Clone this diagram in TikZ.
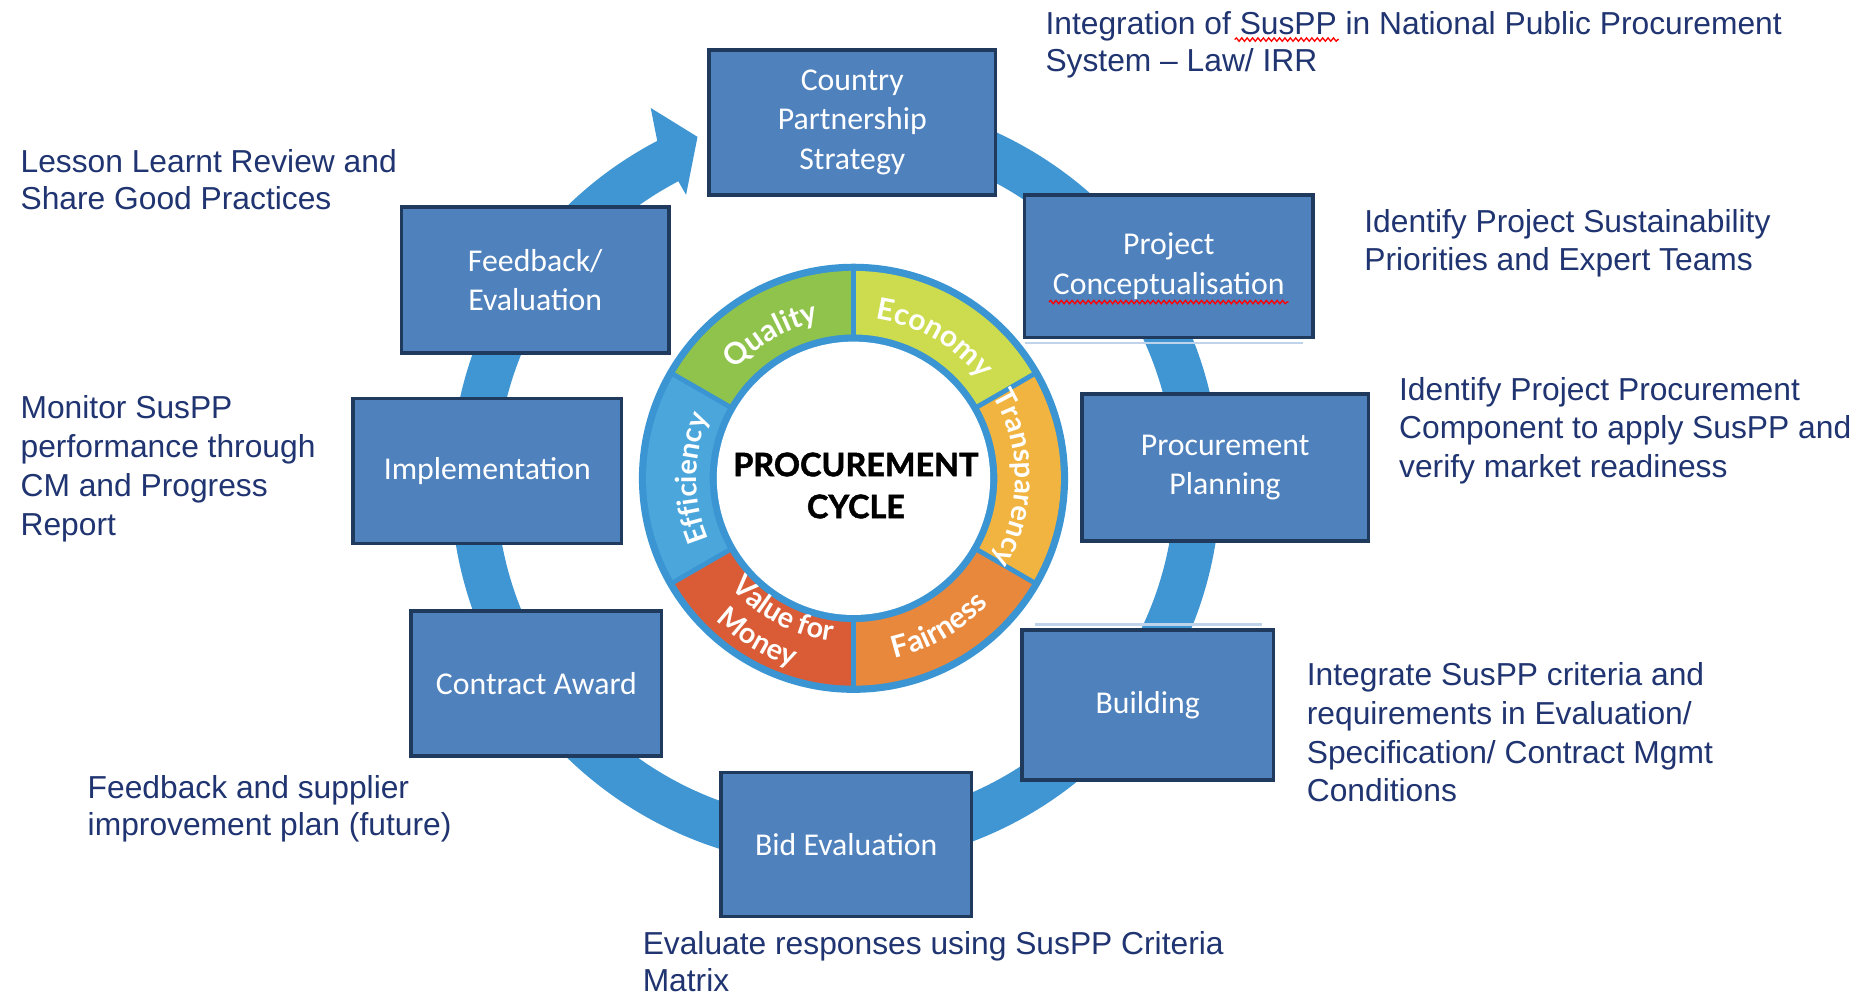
\documentclass[tikz,border=0pt]{standalone}
\usepackage{fontspec}
\setmainfont{Liberation Sans}
\newfontfamily\boxfont{Carlito}
\newfontfamily\wheelfont{Lato}
\newfontfamily\pcfont{Lato}[BoldFeatures={FakeBold=1.6}]
\usetikzlibrary{calc,decorations.text,decorations.pathmorphing}
\definecolor{ringblue}{HTML}{3F96D2}
\definecolor{boxfill}{HTML}{4F81BD}
\definecolor{boxline}{HTML}{1F3A5C}
\definecolor{notecol}{HTML}{1F3470}
\definecolor{wborder}{HTML}{3B95D3}
\definecolor{cquality}{HTML}{8FC34B}
\definecolor{ceconomy}{HTML}{CDDC4E}
\definecolor{ctransp}{HTML}{F2B440}
\definecolor{cfair}{HTML}{E8883C}
\definecolor{cvalue}{HTML}{D95C36}
\definecolor{ceffic}{HTML}{4BA6DC}
\definecolor{shadowline}{HTML}{BFD3EA}
\tikzset{
  boxnode/.style={draw=boxline, line width=3, fill=boxfill, text=white,
    font=\boxfont\fontsize{26.5}{33}\selectfont, align=center, inner sep=0},
  notetext/.style={text=notecol, font=\fontsize{26.5}{32}\selectfont,
    align=left, anchor=base west, inner sep=0},
  wavy/.style={red, line width=1.1, decorate,
    decoration={snake, amplitude=1.4, segment length=4.5}},
  wheeltxt/.style={decorate, decoration={text along path, text align=center, text={#1}}}
}
\newcommand\wseg[3]{%
  \fill[#1] ($(WC)+(#2:173)$) arc[start angle=#2, end angle=#3, radius=173]
    -- ($(WC)+(#3:120)$) arc[start angle=#3, end angle=#2, radius=120] -- cycle;}
\begin{document}
\begin{tikzpicture}[x=1pt,y=1pt]
\useasboundingbox (0,0) rectangle (1560,-832.6);

% big cycle arrow
\coordinate (RC) at (697,-402);
\draw[ringblue, line width=38] ($(RC)+(105:302)$) arc[start angle=105, end angle=-243, radius=302];
\fill[ringblue] ($(RC)+(117.6:321)$) -- ($(RC)+(116.3:348)$) -- ($(RC)+(111.8:310)$)
  -- ($(RC)+(117.5:270)$) -- ($(RC)+(117.6:283)$) -- cycle;

% faint shadow lines
\draw[shadowline, line width=2] (855,-286) -- (1087,-286);
\draw[shadowline, line width=2] (863,-521) -- (1053,-521);

% process boxes
\node[boxnode, minimum width=239, minimum height=121] (country) at (711,-102) {Country\\Partnership\\Strategy};
\node[boxnode, minimum width=241, minimum height=119] (project) at (975,-222) {Project\\Conceptualisation};
\node[boxnode, minimum width=239, minimum height=123] (planning) at (1022,-390) {Procurement\\Planning};
\node[boxnode, minimum width=210, minimum height=125] (building) at (957.5,-588) {Building};
\node[boxnode, minimum width=209, minimum height=120] (bid) at (706,-704.5) {Bid Evaluation};
\node[boxnode, minimum width=209, minimum height=121] (contract) at (447.5,-570) {Contract Award};
\node[boxnode, minimum width=224, minimum height=121] (implement) at (406.5,-393) {Implementation};
\node[boxnode, minimum width=223, minimum height=122] (feedback) at (446.5,-233.5) {Feedback/\\Evaluation};

% spell-check underlines
\draw[wavy] (875,-252) -- (1075,-252);
\draw[wavy] (1030,-33) -- (1117,-33);

% central wheel
\coordinate (WC) at (712,-399);
\fill[wborder] (WC) circle[radius=179];
\wseg{ceconomy}{30}{90}
\wseg{cquality}{90}{150}
\wseg{ceffic}{150}{210}
\wseg{cvalue}{210}{270}
\wseg{cfair}{270}{330}
\wseg{ctransp}{330}{390}
\foreach \a in {30,90,150,210,270,330}
  \draw[wborder, line width=4] ($(WC)+(\a:116)$) -- ($(WC)+(\a:176)$);
\fill[white] (WC) circle[radius=114];

\path[wheeltxt={|\wheelfont\bfseries\fontsize{25}{25}\selectfont\color{white}|Quality}]
  ($(WC)+(160:134)$) arc[start angle=160, end angle=80, radius=134];
\path[wheeltxt={|\wheelfont\bfseries\fontsize{25}{25}\selectfont\color{white}|Economy}]
  ($(WC)+(100:134)$) arc[start angle=100, end angle=20, radius=134];
\path[wheeltxt={|\wheelfont\bfseries\fontsize{24}{24}\selectfont\color{white}|Transparency}]
  ($(WC)+(45:135)$) arc[start angle=45, end angle=-45, radius=135];
\path[wheeltxt={|\wheelfont\bfseries\fontsize{24}{24}\selectfont\color{white}|Efficiency}]
  ($(WC)+(225:131)$) arc[start angle=225, end angle=135, radius=131];
\path[wheeltxt={|\wheelfont\bfseries\fontsize{25}{25}\selectfont\color{white}|Fairness}]
  ($(WC)+(-100:154)$) arc[start angle=-100, end angle=-20, radius=154];
\path[wheeltxt={|\wheelfont\bfseries\fontsize{24}{24}\selectfont\color{white}|Value for}]
  ($(WC)+(-165:137)$) arc[start angle=-165, end angle=-71, radius=137];
\path[wheeltxt={|\wheelfont\bfseries\fontsize{24}{24}\selectfont\color{white}|Money}]
  ($(WC)+(-165:165)$) arc[start angle=-165, end angle=-77, radius=165];

\node[font=\pcfont\bfseries\fontsize{27}{35}\selectfont, align=center, inner sep=0] (pc) at (714,-405) {PROCUREMENT\\CYCLE};

% annotations (anchor = baseline of the last line)
\node[notetext, font=\fontsize{26.5}{31}\selectfont] (n1) at (872,-60) {Integration of SusPP in National Public Procurement\\System -- Law/ IRR};
\node[notetext, font=\fontsize{26.5}{31}\selectfont] (n2) at (17,-175) {Lesson Learnt Review and\\Share Good Practices};
\node[notetext] (n3) at (1138,-226) {Identify Project Sustainability\\Priorities and Expert Teams};
\node[notetext] (n4) at (1167,-398) {Identify Project Procurement\\Component to apply SusPP and\\verify market readiness};
\node[notetext, font=\fontsize{26.5}{32.7}\selectfont] (n5) at (17,-447) {Monitor SusPP\\performance through\\CM and Progress\\Report};
\node[notetext, font=\fontsize{26.5}{32.3}\selectfont] (n6) at (1090,-669) {Integrate SusPP criteria and\\requirements in Evaluation/\\Specification/ Contract Mgmt\\Conditions};
\node[notetext, font=\fontsize{26.5}{31}\selectfont] (n7) at (73,-697) {Feedback and supplier\\improvement plan (future)};
\node[notetext, font=\fontsize{26.5}{31}\selectfont] (n8) at (536,-827) {Evaluate responses using SusPP Criteria\\Matrix};
\end{tikzpicture}
\end{document}
